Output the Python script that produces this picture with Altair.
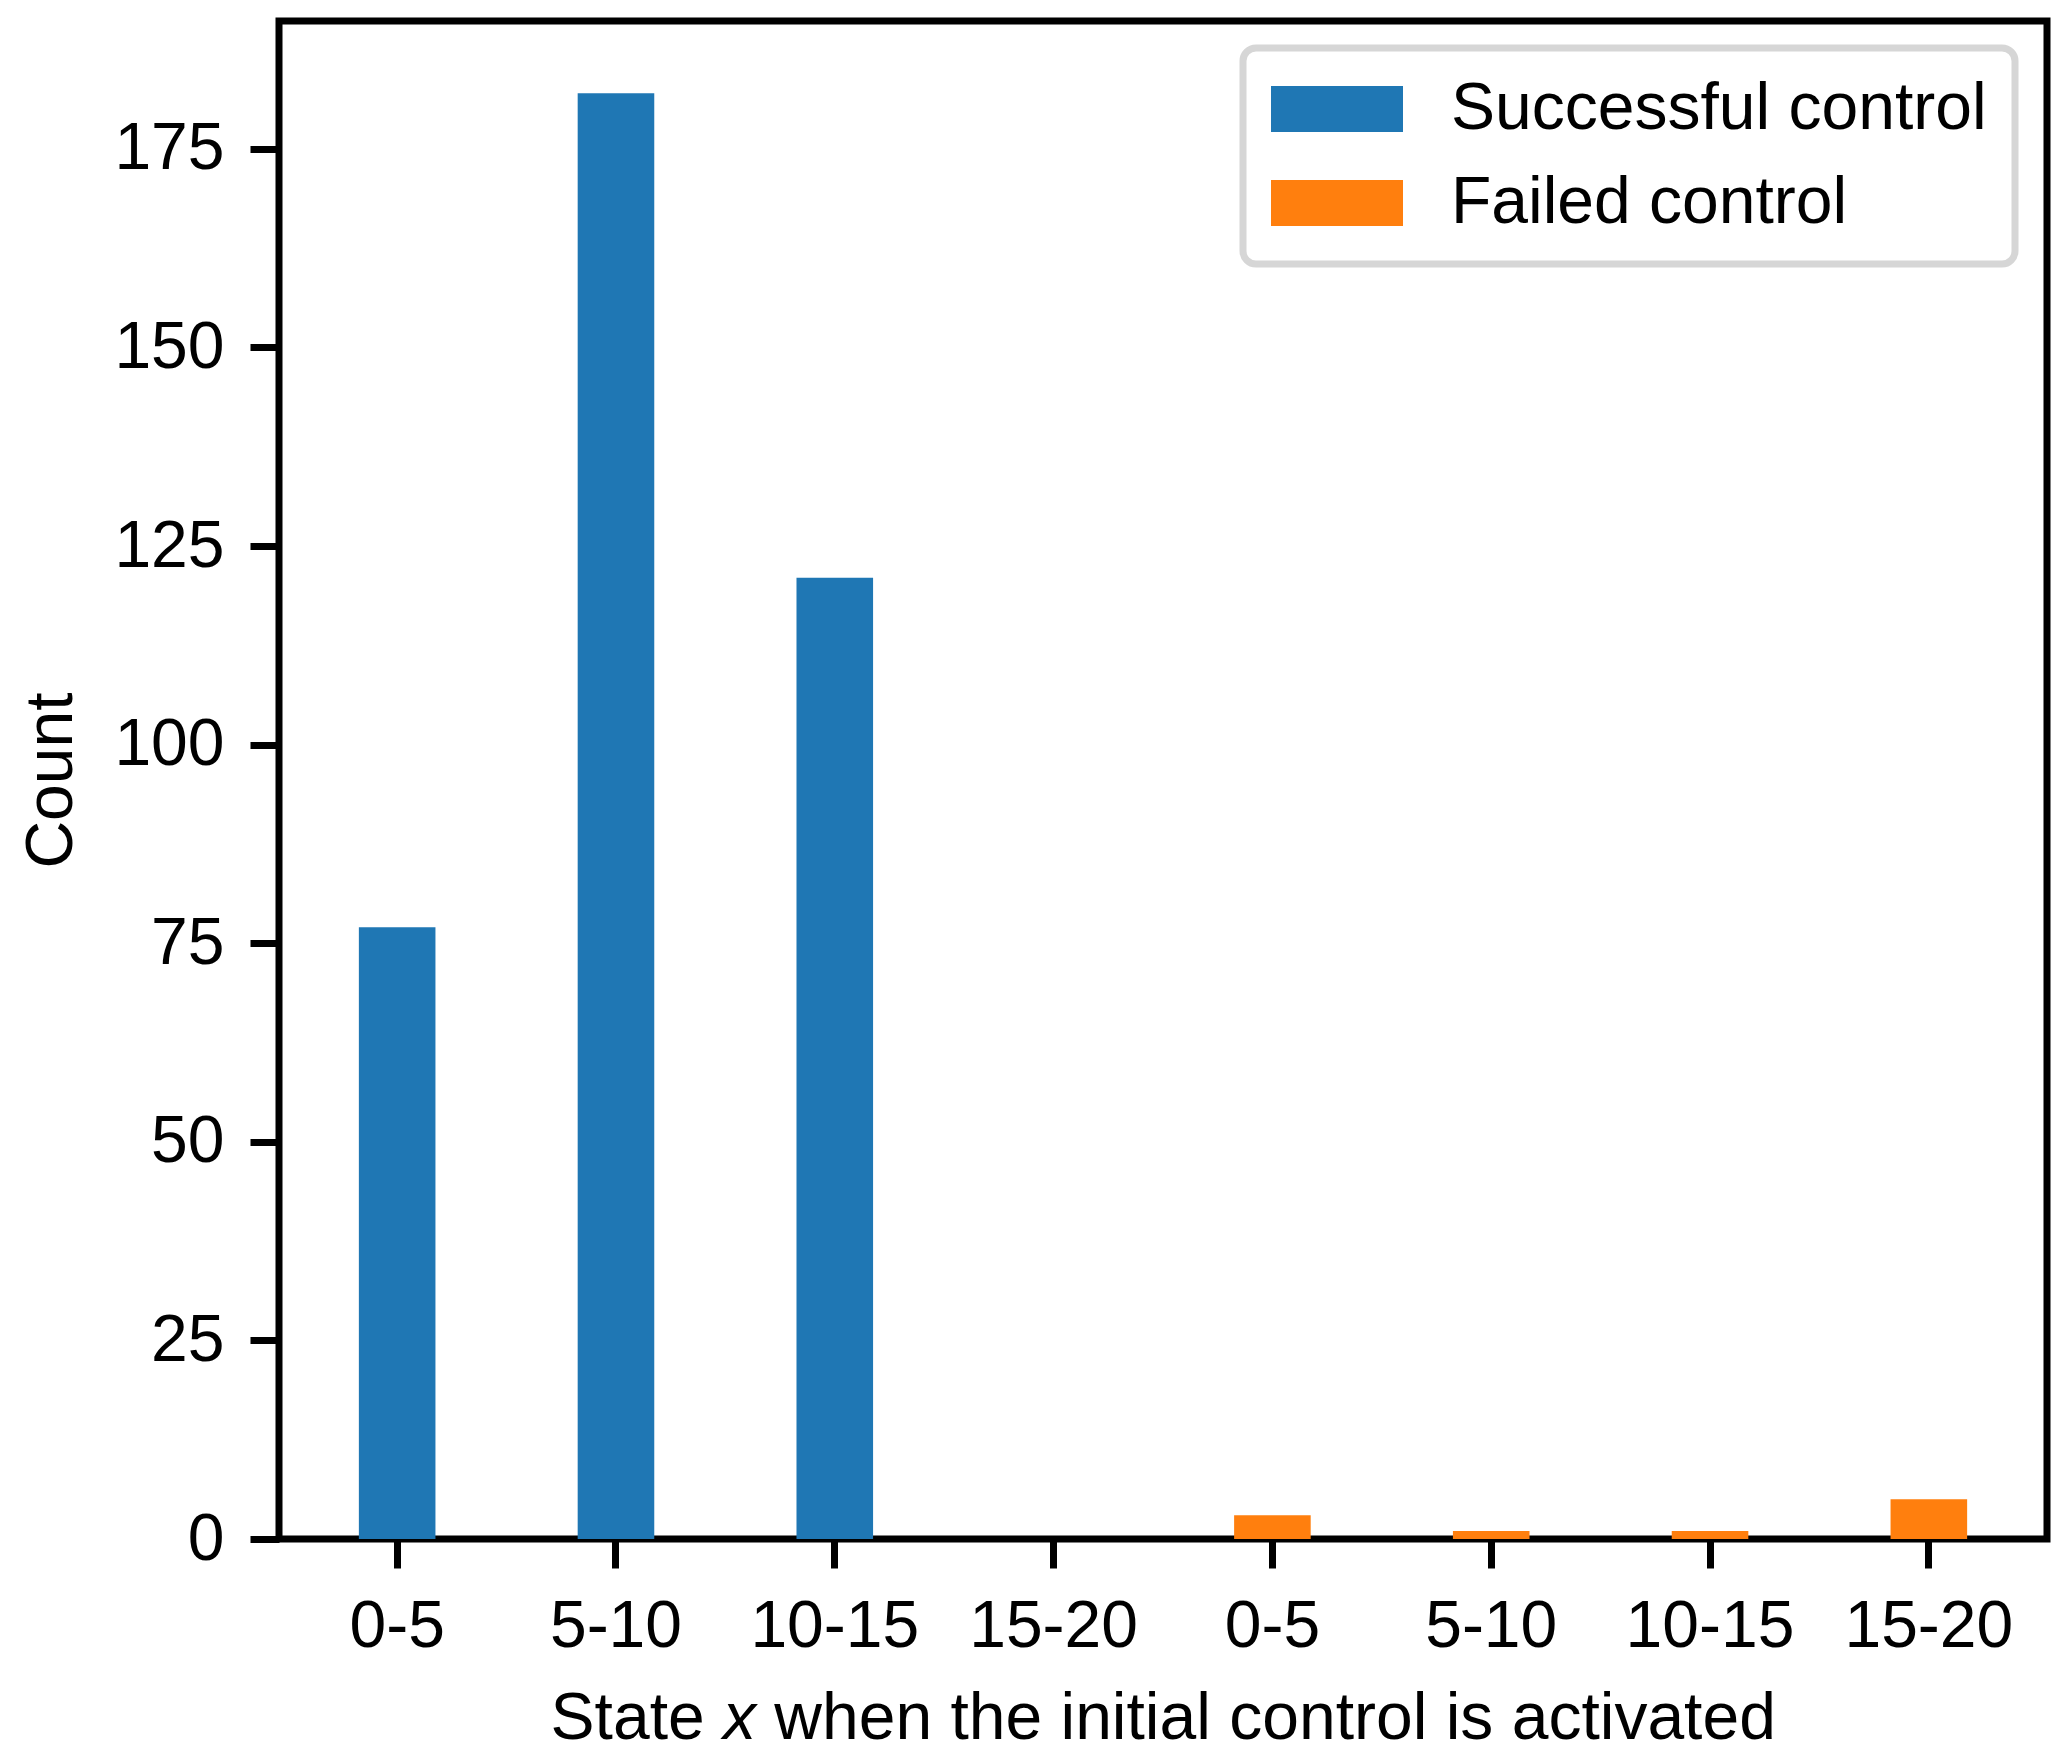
import altair as alt
import pandas as pd

bins = ["0-5", "5-10", "10-15", "15-20"]
success = [77, 182, 121, 0]
failed = [3, 1, 1, 5]
series = ["Successful control", "Failed control"]
colors = ["#1f77b4", "#ff7f0e"]
xtitle_parts = ["State", "x", "when the initial control is activated"]

rows = []
keys = []
for i, b in enumerate(bins):
    k = f"{i}|{b}"
    keys.append(k)
    rows.append({"key": k, "series": series[0], "count": success[i]})
for i, b in enumerate(bins):
    k = f"{i + 4}|{b}"
    keys.append(k)
    rows.append({"key": k, "series": series[1], "count": failed[i]})
df = pd.DataFrame(rows)

FONT = "Liberation Sans"
FS = 66
W = 1768
H = 1518
SP = 18.3  # width of a space at FS

bars = alt.Chart(df).mark_bar().encode(
    x=alt.X(
        "key:N",
        sort=keys,
        scale=alt.Scale(paddingInner=0.65, paddingOuter=0.365),
        axis=alt.Axis(
            title=None,
            labelExpr="split(datum.label, '|')[1]",
            labelAngle=0,
            labelFont=FONT, labelFontSize=FS, labelColor="black",
            tickSize=29, tickWidth=7, tickColor="black",
            labelPadding=26,
            domain=False, grid=False,
        ),
    ),
    y=alt.Y(
        "count:Q",
        scale=alt.Scale(domain=[0, 191.1], nice=False, zero=True),
        axis=alt.Axis(
            title="Count",
            values=[0, 25, 50, 75, 100, 125, 150, 175],
            labelFont=FONT, labelFontSize=FS, labelColor="black",
            titleFont=FONT, titleFontSize=FS, titleFontWeight="normal", titleColor="black",
            tickSize=29, tickWidth=7, tickColor="black",
            labelPadding=26, titlePadding=28,
            domain=False, grid=False,
        ),
    ),
    color=alt.Color(
        "series:N",
        scale=alt.Scale(domain=series, range=colors),
        legend=alt.Legend(
            title=None,
            orient="none",
            legendX=964,
            legendY=27,
            symbolType="M-2,-0.7H2V0.7H-2Z",
            symbolSize=4356,
            symbolStrokeWidth=0,
            symbolOffset=33,
            labelFont=FONT, labelFontSize=FS, labelColor="black",
            labelOffset=81,
            labelLimit=1000,
            cornerRadius=13,
            fillColor="white",
        ),
    ),
)

one = pd.DataFrame({"t": [0]})
cx = W / 2
ty = H + 200
t_state = alt.Chart(one).mark_text(
    text=xtitle_parts[0], font=FONT, fontSize=FS, align="right", baseline="alphabetic", color="black"
).encode(x=alt.value(cx - 440 - SP), y=alt.value(ty))
t_x = alt.Chart(one).mark_text(
    text=xtitle_parts[1], font=FONT, fontSize=FS, fontStyle="italic", align="left", baseline="alphabetic", color="black"
).encode(x=alt.value(cx - 440), y=alt.value(ty))
t_rest = alt.Chart(one).mark_text(
    text=xtitle_parts[2], font=FONT, fontSize=FS, align="left", baseline="alphabetic", color="black"
).encode(x=alt.value(cx - 407 + SP), y=alt.value(ty))

chart = alt.layer(bars, t_state, t_x, t_rest).properties(
    width=W,
    height=H,
    padding={"left": 10, "top": 13, "right": 5, "bottom": 5},
).configure_view(
    stroke="black",
    strokeWidth=7,
).configure_legend(
    rowPadding=28,
    padding=28,
    strokeColor="#d6d6d6",
    strokeWidth=7,
)

chart.save("out.html", embed_options={"renderer": "svg", "actions": False})
